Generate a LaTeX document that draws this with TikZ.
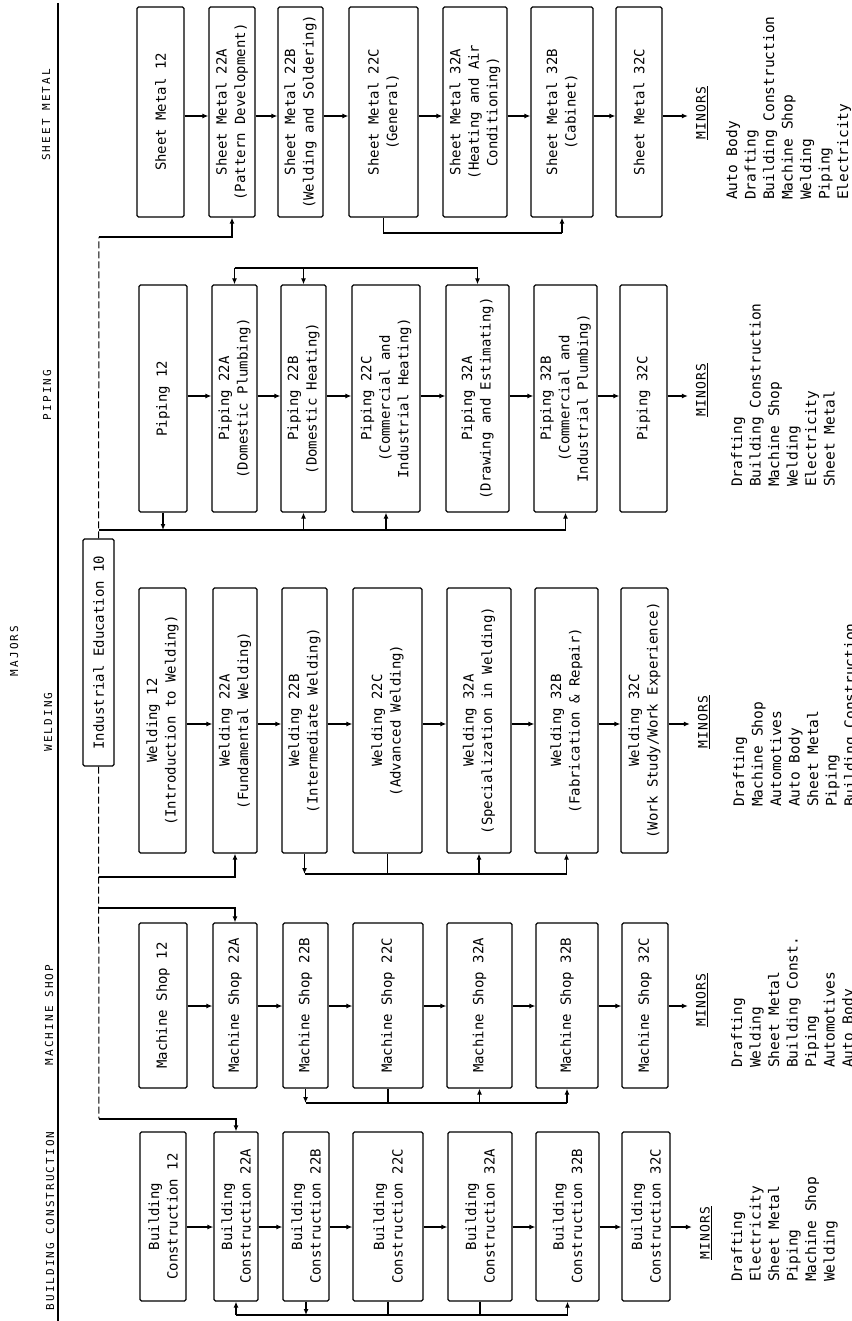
\documentclass[tikz,border=0pt]{standalone}
\usepackage{fontspec}
\usetikzlibrary{arrows.meta}
\newfontfamily\bxf{DejaVu Sans Mono}
\newfontfamily\hdf[LetterSpace=19]{DejaVu Sans Mono}
\newfontfamily\mnf[LetterSpace=10]{DejaVu Sans Mono}
\tikzset{
  box/.style={draw, line width=1.2pt, rounded corners=1.5pt, rotate=90, align=center,
    inner sep=1pt, font=\bxf\fontsize{14}{18.5}\selectfont},
  hd/.style={rotate=90, inner sep=0pt, font=\hdf\fontsize{11}{13}\selectfont},
  mnl/.style={rotate=90, inner sep=1pt, font=\mnf\fontsize{13}{15}\selectfont},
  lst/.style={rotate=90, anchor=north west, align=left, inner sep=0pt,
    font=\bxf\fontsize{14.5}{18.5}\selectfont},
  ln/.style={line width=1.2pt},
  arr/.style={-{Latex[length=6pt,width=5pt]}},
  dl/.style={line width=1pt, dash pattern=on 7pt off 3pt}
}
\newcommand\bx[6]{\node[box, minimum width=#5pt, minimum height=#4pt] (#1) at (#2,#3) {#6};}
\begin{document}
\begin{tikzpicture}[x=1pt,y=-1pt]
\useasboundingbox (0,0) rectangle (851,1321);
\fill[white] (0,0) rectangle (851,1321);

% headers
\node[hd] (hSM) at (46,115) {SHEET METAL};
\node[hd] (hP) at (47,395) {PIPING};
\node[hd] (hMJ) at (14,651) {MAJORS};
\node[hd] (hW) at (48,722) {WELDING};
\node[hd] (hM) at (49,1015) {MACHINE SHOP};
\node[hd] (hB) at (50,1221) {BUILDING CONSTRUCTION};
\draw[line width=1.3pt] (58,3) -- (58,1321);

% Industrial Education
\node[box, minimum width=227pt, minimum height=31pt] (ie) at (98.5,652.5) {Industrial Education 10};

% Sheet metal
\bx{sm1}{160.5}{112}{47}{210}{Sheet Metal 12}
\bx{sm2}{232}{112}{46}{210}{Sheet Metal 22A\\(Pattern Development)}
\bx{sm3}{300.5}{112}{45}{210}{Sheet Metal 22B\\(Welding and Soldering)}
\bx{sm4}{383.5}{112}{69}{210}{Sheet Metal 22C\\(General)}
\bx{sm5}{475}{112}{64}{210}{Sheet Metal 32A\\(Heating and Air\\Conditioning)}
\bx{sm6}{562}{112}{62}{210}{Sheet Metal 32B\\(Cabinet)}
\bx{sm7}{639}{112}{46}{210}{Sheet Metal 32C}

% Piping
\bx{p1}{163}{398.5}{48}{227}{Piping 12}
\bx{p2}{234.5}{398.5}{45}{227}{Piping 22A\\(Domestic Plumbing)}
\bx{p3}{303.5}{398.5}{45}{227}{Piping 22B\\(Domestic Heating)}
\bx{p4}{386}{398.5}{68}{227}{Piping 22C\\(Commercial and\\Industrial Heating)}
\bx{p5}{477.5}{398.5}{63}{227}{Piping 32A\\(Drawing and Estimating)}
\bx{p6}{565.5}{398.5}{63}{227}{Piping 32B\\(Commercial and\\Industrial Plumbing)}
\bx{p7}{643.5}{398.5}{47}{227}{Piping 32C}

% Welding
\bx{w1}{162.5}{720.5}{47}{265}{Welding 12\\(Introduction to Welding)}
\bx{w2}{235}{720.5}{44}{265}{Welding 22A\\(Fundamental Welding)}
\bx{w3}{304.5}{720.5}{45}{265}{Welding 22B\\(Intermediate Welding)}
\bx{w4}{387.5}{720.5}{69}{265}{Welding 22C\\(Advanced Welding)}
\bx{w5}{479}{720.5}{64}{265}{Welding 32A\\(Specialization in Welding)}
\bx{w6}{566.5}{720.5}{63}{265}{Welding 32B\\(Fabrication \& Repair)}
\bx{w7}{644.5}{720.5}{47}{265}{Welding 32C\\(Work Study/Work Experience)}

% Machine shop
\bx{m1}{163}{1005.5}{48}{165}{Machine Shop 12}
\bx{m2}{235}{1005.5}{44}{165}{Machine Shop 22A}
\bx{m3}{305.5}{1005.5}{45}{165}{Machine Shop 22B}
\bx{m4}{388}{1005.5}{70}{165}{Machine Shop 22C}
\bx{m5}{479.5}{1005.5}{65}{165}{Machine Shop 32A}
\bx{m6}{567}{1005.5}{62}{165}{Machine Shop 32B}
\bx{m7}{645}{1005.5}{46}{165}{Machine Shop 32C}

% Building construction
\bx{b1}{163}{1216.5}{46}{169}{Building\\Construction 12}
\bx{b2}{236}{1216.5}{44}{169}{Building\\Construction 22A}
\bx{b3}{306}{1216.5}{46}{169}{Building\\Construction 22B}
\bx{b4}{388}{1216.5}{70}{169}{Building\\Construction 22C}
\bx{b5}{480}{1216.5}{64}{169}{Building\\Construction 32A}
\bx{b6}{567.5}{1216.5}{63}{169}{Building\\Construction 32B}
\bx{b7}{646}{1216.5}{48}{169}{Building\\Construction 32C}

% MINORS labels
\node[mnl] (mnSM) at (702,113) {\underline{MINORS}};
\node[mnl] (mnP) at (702,390) {\underline{MINORS}};
\node[mnl] (mnW) at (704,722) {\underline{MINORS}};
\node[mnl] (mnM) at (702,1000) {\underline{MINORS}};
\node[mnl] (mnB) at (706,1233) {\underline{MINORS}};

% minors lists
\node[lst] (lSM) at (726,200) {Auto Body\\Drafting\\Building Construction\\Machine Shop\\Welding\\Piping\\Electricity};
\node[lst] (lP) at (731,487) {Drafting\\Building Construction\\Machine Shop\\Welding\\Electricity\\Sheet Metal};
\node[lst] (lW) at (733,807) {Drafting\\Machine Shop\\Automotives\\Auto Body\\Sheet Metal\\Piping\\Building Construction};
\node[lst] (lM) at (731,1068) {Drafting\\Welding\\Sheet Metal\\Building Const.\\Piping\\Automotives\\Auto Body};
\node[lst] (lB) at (731,1282) {Drafting\\Electricity\\Sheet Metal\\Piping\\Machine Shop\\Welding};

% arrow rows
\coordinate (aSM) at (0,116);
\coordinate (aP) at (0,396);
\coordinate (aW) at (0,724);
\coordinate (aM) at (0,1006);
\coordinate (aB) at (0,1227);
\foreach \k/\r in {sm/aSM,p/aP,w/aW,m/aM,b/aB}{
  \foreach \a/\b in {1/2,2/3,3/4,4/5,5/6,6/7}{
    \draw[ln,arr] (\k\a.south |- \r) -- (\k\b.north |- \r);
  }
}
\draw[ln,arr,shorten >=7pt] (sm7.south |- aSM) -- (mnSM.north |- aSM);
\draw[ln,arr,shorten >=7pt] (p7.south |- aP) -- (mnP.north |- aP);
\draw[ln,arr,shorten >=7pt] (w7.south |- aW) -- (mnW.north |- aW);
\draw[ln,arr,shorten >=7pt] (m7.south |- aM) -- (mnM.north |- aM);
\draw[ln,arr,shorten >=7pt] (b7.south |- aB) -- (mnB.north |- aB);

% Industrial Education trunk
\coordinate (jSM) at (99,237);
\coordinate (jP) at (99,530);
\coordinate (jW) at (99,877);
\coordinate (jM) at (99,908);
\coordinate (jB) at (99,1119);
\draw[dl] (ie.east) -- (jSM);
\draw[dl] (ie.west) -- (jB);

% sheet metal links
\draw[ln,arr] (jSM) -| (sm2.west);
\coordinate (bSM) at (0,233);
\draw[ln] (sm4.west) -- (sm4.west |- bSM) -- (sm6.west |- bSM);
\draw[ln,arr] (sm6.west |- bSM) -- (sm6.west);

% piping links
\coordinate (tP) at (0,268);
\draw[ln] (p2.east |- tP) -- (p5.east |- tP);
\foreach \i in {2,3,5}{\draw[ln,arr] (p\i.east |- tP) -- (p\i.east);}
\draw[ln] (jP) -- (p6.west |- jP);
\draw[ln,arr] (p1.west) -- (p1.west |- jP);
\foreach \i in {3,4,6}{\draw[ln,arr] (p\i.west |- jP) -- (p\i.west);}

% welding links
\draw[ln,arr] (jW) -| (w2.west);
\coordinate (bW) at (0,874);
\draw[ln] (w3.west |- bW) -- (w6.west |- bW);
\draw[ln,arr] (w3.west) -- (w3.west |- bW);
\draw[ln] (w4.west) -- (w4.west |- bW);
\foreach \i in {5,6}{\draw[ln,arr] (w\i.west |- bW) -- (w\i.west);}

% machine shop links
\draw[ln,arr] (jM) -| (m2.east);
\coordinate (bM) at (0,1103);
\draw[ln] (m3.west |- bM) -- (m6.west |- bM);
\draw[ln,arr] (m3.west) -- (m3.west |- bM);
\draw[ln] (m4.west) -- (m4.west |- bM);
\foreach \i in {5,6}{\draw[ln,arr] (m\i.west |- bM) -- (m\i.west);}

% building links
\draw[ln,arr] (jB) -| (b2.east);
\coordinate (bB) at (0,1315);
\draw[ln] (b2.west |- bB) -- (b6.west |- bB);
\draw[ln,arr] (b2.west |- bB) -- (b2.west);
\draw[ln,arr] (b3.west) -- (b3.west |- bB);
\draw[ln] (b4.west) -- (b4.west |- bB);
\draw[ln] (b5.west) -- (b5.west |- bB);
\draw[ln,arr] (b6.west |- bB) -- (b6.west);
\end{tikzpicture}
\end{document}
